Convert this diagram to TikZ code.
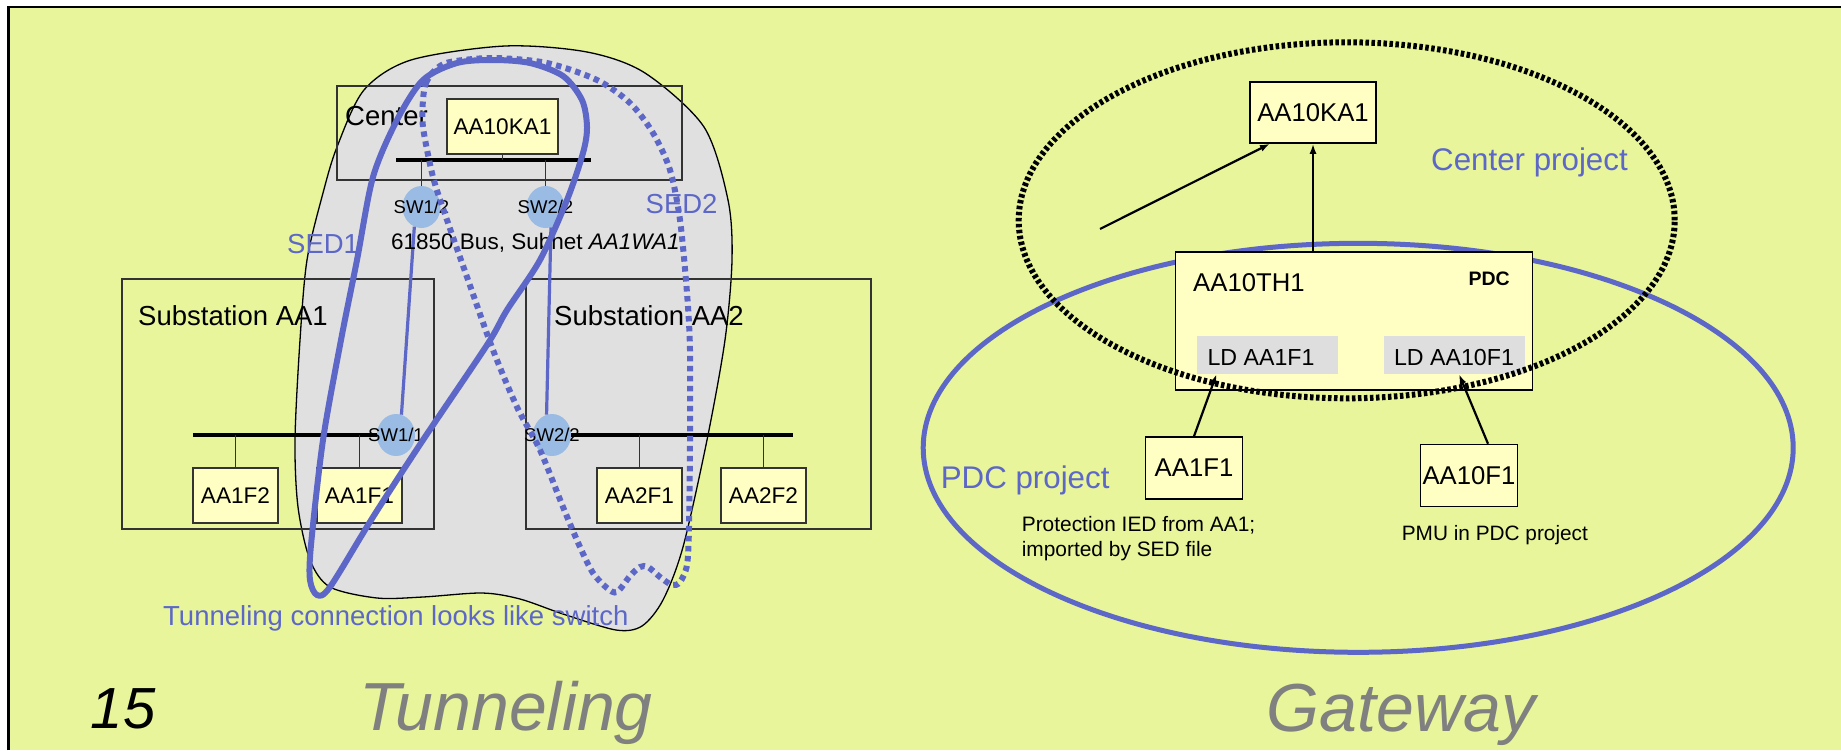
\documentclass[tikz,border=0pt]{standalone}
\usepackage{fontspec}
\setmainfont{Liberation Sans}
\usepackage{tikz}
\usetikzlibrary{arrows.meta,calc,positioning,shapes.geometric}
\definecolor{slidebg}{RGB}{232,245,154}
\definecolor{iedfill}{RGB}{255,255,196}
\definecolor{sedblue}{RGB}{92,103,199}
\definecolor{swblue}{RGB}{153,187,228}
\definecolor{blobgray}{RGB}{224,224,224}
\definecolor{ldgray}{RGB}{222,222,222}
\definecolor{titlegray}{RGB}{128,128,128}

\begin{document}
\begin{tikzpicture}[x=1pt,y=-1pt,
  fs/.style={font=\fontsize{#1}{#1}\selectfont},
  lbl/.style={inner sep=0pt,anchor=base west},
  area/.style={draw=black!80,line width=1.6pt,inner sep=0pt},
  ied/.style={draw=black!80,line width=1.5pt,fill=iedfill,inner sep=0pt,minimum width=85pt,minimum height=55pt,fs=22.6},
  gwbox/.style={draw,line width=1.5pt,fill=iedfill,inner sep=0pt,minimum width=97pt,minimum height=62pt,fs=25.7},
  ldbox/.style={fill=ldgray,inner sep=0pt,minimum width=141pt,minimum height=38pt},
  bus/.style={line width=4.5pt},
  stem/.style={black!80,line width=1.5pt},
  switch/.style={ellipse,fill=swblue,inner sep=0pt,minimum width=38pt,minimum height=42pt},
  sedloop/.style={sedblue,line width=6pt},
  sedlink/.style={sedblue,line width=3.2pt},
  arr/.style={-{Latex[length=10pt,width=7pt]},line width=2.2pt}]
\useasboundingbox (0,0) rectangle (1841,750);
\fill[white] (0,0) rectangle (1841,750);
\fill[slidebg] (8.5,7) rectangle (1841,750);
\draw[line width=2.5pt] (8.5,750) -- (8.5,7) -- (1841,7);

\filldraw[fill=blobgray,draw=black,line width=1.3pt] plot[smooth cycle] coordinates {(505,46) (587,52) (645,73) (704,127) (728,200) (732,260) (725,340) (707,440) (683,547) (663,600) (642,626) (616,630) (563,614) (520,599) (482,593) (423,597) (377,598) (330,587) (310,560) (298,507) (295,440) (300,340) (307,260) (323,193) (337,147) (364,90) (411,60)};

\node[area,minimum width=345pt,minimum height=94pt] (center) at (509.5,133) {};
\node[lbl,fs=27.5] (centerlbl) at (345,125) {Center};
\node[area,minimum width=312pt,minimum height=250pt] (subA) at (278,404) {};
\node[lbl,fs=27.5] (subAlbl) at (138,325) {Substation AA1};
\node[area,minimum width=345pt,minimum height=250pt] (subB) at (698.5,404) {};
\node[lbl,fs=27.5] (subBlbl) at (554,325) {Substation AA2};

\node[ied,minimum width=111pt] (ka1) at (502.5,126.5) {AA10KA1};
\node[ied] (aa1f2) at (235.5,495.5) {AA1F2};
\node[ied] (aa1f1) at (359.5,495.5) {AA1F1};
\node[ied] (aa2f1) at (639.5,495.5) {AA2F1};
\node[ied] (aa2f2) at (763.5,495.5) {AA2F2};
\node[switch] (sw12) at (421.5,207) {};
\node[switch] (sw22c) at (545.5,207) {};
\node[switch] (sw11) at (396,435) {};
\node[switch] (sw22s) at (552,435) {};

\coordinate (busCl) at (396,160);
\coordinate (busCr) at (591,160);
\coordinate (busAl) at (193,435);
\coordinate (busBr) at (793,435);
\draw[bus] (busCl) -- (busCr);
\draw[bus] (busAl) -- (sw11);
\draw[bus] (sw22s) -- (busBr);
\draw[stem] (ka1.south) -- (ka1.south |- busCl);
\draw[stem] (sw12.north) -- (sw12.north |- busCl);
\draw[stem] (sw22c.north) -- (sw22c.north |- busCl);
\draw[stem] (aa1f2.north) -- (aa1f2.north |- busAl);
\draw[stem] (aa1f1.north) -- (aa1f1.north |- busAl);
\draw[stem] (aa2f1.north) -- (aa2f1.north |- busBr);
\draw[stem] (aa2f2.north) -- (aa2f2.north |- busBr);

\node[fs=18.5,inner sep=0pt] (sw12lbl) at (sw12) {SW1/2};
\node[fs=18.5,inner sep=0pt] (sw22clbl) at (sw22c) {SW2/2};
\node[fs=18.5,inner sep=0pt] (sw11lbl) at (sw11) {SW1/1};
\node[fs=18.5,inner sep=0pt] (sw22slbl) at (sw22s) {SW2/2};
\draw[sedlink] (sw12.250) -- (sw11.75);
\draw[sedlink] (sw22c.285) -- (sw22s.105);

\node[lbl,fs=22.5] (buslbl) at (391,249) {61850 Bus, Subnet \textit{AA1WA1}};
\node[lbl,fs=27.5,text=sedblue] (sed1lbl) at (287,253) {SED1};
\node[lbl,fs=27.5,text=sedblue] (sed2lbl) at (645.5,213) {SED2};
\node[lbl,fs=27.5,text=sedblue] (tunlbl) at (163,625) {Tunneling connection looks like switch};

\draw[sedloop] plot[smooth cycle] coordinates {(317,595) (310,580) (311,545) (323,440) (341,340) (357,260) (373,177) (397,120) (423,80) (457,63) (493,60) (530,63) (563,76) (582,100) (587,127) (583,153) (567,200) (540,260) (507,310) (487,345) (423,440) (373,517) (330,587)};
\draw[sedloop,dash pattern=on 5.5pt off 4.5pt] plot[smooth cycle] coordinates {(423,100) (426,83) (435,70) (450,62) (493,58) (547,63) (597,80) (630,103) (653,133) (670,170) (680,220) (687,293) (690,350) (690,440) (689,527) (687,565) (680,582) (672,585) (660,577) (648,567) (640,567) (630,576) (617,592) (607,588) (593,573) (580,547) (563,507) (540,450) (517,407) (493,350) (467,277) (447,220) (433,177) (423,127)};

\node[ellipse,draw=sedblue,line width=5pt,inner sep=0pt,minimum width=870pt,minimum height=409pt] (pdcarea) at (1358.2,447.8) {};
\node[draw,line width=1.5pt,fill=iedfill,inner sep=0pt,minimum width=357pt,minimum height=138pt] (th1) at (1354,321) {};
\node[lbl,fs=25.7] (th1lbl) at (1193,291.7) {AA10TH1};
\node[inner sep=0pt,anchor=base east,fs=19.5] (pdclbl) at (1510,285) {\bfseries PDC};
\node[ldbox] (ldA) at (1267.5,355) {};
\node[lbl,fs=23.2] (ldAlbl) at ([xshift=10.5pt,yshift=-10pt]ldA.west) {LD AA1F1};
\node[ldbox] (ldB) at (1454,355) {};
\node[lbl,fs=23.2] (ldBlbl) at ([xshift=10.5pt,yshift=-10pt]ldB.west) {LD AA10F1};
\node[gwbox,minimum width=126pt,minimum height=61pt] (ka1r) at (1313,112.5) {AA10KA1};
\node[gwbox] (aa1f1r) at (1194,468) {AA1F1};
\node[gwbox] (aa10f1r) at (1469,475.5) {AA10F1};

\coordinate (feed) at (1100,229);
\draw[arr] (feed) -- (ka1r.216);
\draw[arr] (th1.north -| ka1r) -- (ka1r.south);
\draw[arr] (aa1f1r.north) -- ([xshift=-51pt]ldA.south);
\draw[arr] ([xshift=19pt]aa10f1r.north) -- ([xshift=5pt]ldB.south);
\node[ellipse,draw,line width=6pt,dash pattern=on 3.5pt off 2.5pt,inner sep=0pt,minimum width=656pt,minimum height=356pt] (centerarea) at (1346.7,220.3) {};

\node[lbl,fs=31.3,text=sedblue] (cplbl) at (1431,170.7) {Center project};
\node[lbl,fs=31.3,text=sedblue] (pplbl) at (940.6,488.3) {PDC project};
\node[lbl,fs=20.9] (prot1) at (1021.6,531.7) {Protection IED from AA1;};
\node[lbl,fs=20.9] (prot2) at (1021.6,556.7) {imported by SED file};
\node[lbl,fs=20.8] (pmulbl) at (1401.6,540) {PMU in PDC project};

\node[lbl,fs=58] (pageno) at (90.7,728.3) {\itshape 15};
\node[lbl,fs=68,text=titlegray] (tuntitle) at (359,730) {\itshape Tunneling};
\node[lbl,fs=68,text=titlegray] (gwtitle) at (1266.5,731.7) {\itshape Gateway};
\end{tikzpicture}
\end{document}
